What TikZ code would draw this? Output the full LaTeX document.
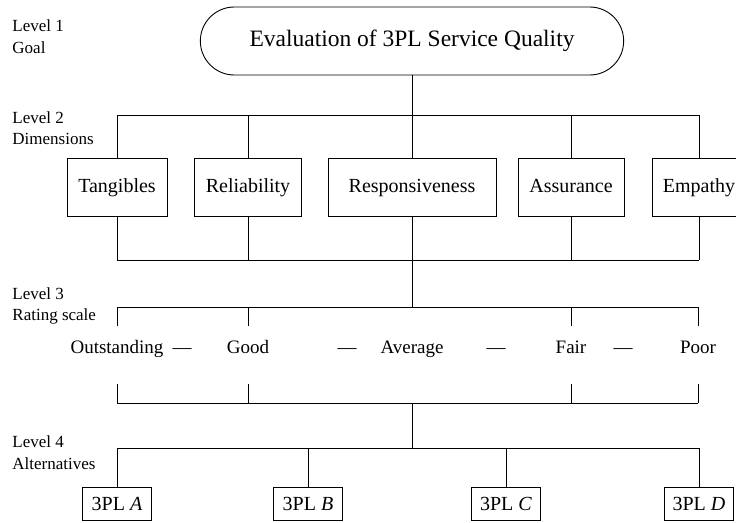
\documentclass[tikz,border=0pt]{standalone}
\usepackage{fontspec}
\setmainfont{Liberation Serif}
\usetikzlibrary{shapes,positioning,calc}

\begin{document}
\begin{tikzpicture}[x=1pt, y=-1pt, line width=0.9pt,
    dimbox/.style={draw, minimum height=58pt, text height=14pt, text depth=4pt, font=\fontsize{20}{24}\selectfont},
    altbox/.style={draw, minimum width=69pt, minimum height=33pt, inner sep=0pt, text height=14pt, text depth=2pt, font=\fontsize{20}{24}\selectfont},
    rate/.style={inner sep=0pt, anchor=base, text height=27pt, text depth=31pt, font=\fontsize{19}{23}\selectfont},
    dashtext/.style={anchor=base, inner sep=0pt, font=\fontsize{19}{23}\selectfont},
    lvl/.style={anchor=base west, inner sep=0pt, font=\fontsize{17}{21}\selectfont}]
    \useasboundingbox (0,0) rectangle (736,522);
    \clip (0,0) rectangle (736,522);

    % Level labels
    \node[lvl] (lev1) at (12,31) {Level 1};
    \node[lvl] (lev1name) at (12,53) {Goal};
    \node[lvl] (lev2) at (12,123) {Level 2};
    \node[lvl] (lev2name) at (12,144) {Dimensions};
    \node[lvl] (lev3) at (12,299) {Level 3};
    \node[lvl] (lev3name) at (12,320) {Rating scale};
    \node[lvl] (lev4) at (12,447) {Level 4};
    \node[lvl] (lev4name) at (12,469) {Alternatives};

    % Bar heights
    \coordinate (b2t) at (0,115);
    \coordinate (b2b) at (0,260);
    \coordinate (b3t) at (0,307);
    \coordinate (b3b) at (0,403);
    \coordinate (b4) at (0,448);

    % Goal
    \node[draw, rounded rectangle, minimum width=430pt, minimum height=68pt,
        font=\fontsize{23.5}{28}\selectfont] (goal) at (412,41) {Evaluation of 3PL Service Quality};

    % Dimensions
    \node[dimbox, minimum width=100pt] (tang) at (117,187) {Tangibles};
    \node[dimbox, minimum width=107pt] (reli) at (248,187) {Reliability};
    \node[dimbox, minimum width=168pt] (resp) at (412,187) {Responsiveness};
    \node[dimbox, minimum width=106pt] (assu) at (571,187) {Assurance};
    \node[dimbox, minimum width=94pt] (empa) at (699,187) {Empathy};

    \draw (goal.south) -- (goal.south |- b2t);
    \draw (tang.north |- b2t) -- (empa.north |- b2t);
    \foreach \nd in {tang,reli,resp,assu,empa}
        \draw (\nd.north) -- (\nd.north |- b2t);
    \draw (tang.south |- b2b) -- (empa.south |- b2b);
    \foreach \nd in {tang,reli,assu,empa}
        \draw (\nd.south) -- (\nd.south |- b2b);
    \draw (resp.south) -- (resp.south |- b3t);

    % Rating scale
    \node[rate] (outs) at (117,353) {Outstanding};
    \node[rate] (good) at (248,353) {Good};
    \node[rate] (aver) at (412,353) {Average};
    \node[rate] (fair) at (571,353) {Fair};
    \node[rate] (poor) at (698,353) {Poor};
    \node[dashtext] (dash1) at (182,353) {\textemdash};
    \node[dashtext] (dash2) at (347,353) {\textemdash};
    \node[dashtext] (dash3) at (496,353) {\textemdash};
    \node[dashtext] (dash4) at (623,353) {\textemdash};

    \draw (outs.north |- b3t) -- (poor.north |- b3t);
    \draw (outs.south |- b3b) -- (poor.south |- b3b);
    \foreach \nd in {outs,good,fair,poor} {
        \draw (\nd.north) -- (\nd.north |- b3t);
        \draw (\nd.south) -- (\nd.south |- b3b);
    }
    \draw (aver.south |- b3b) -- (aver.south |- b4);

    % Alternatives
    \node[altbox] (altA) at (117,504) {3PL \textit{A}};
    \node[altbox] (altB) at (308,504) {3PL \textit{B}};
    \node[altbox] (altC) at (506,504) {3PL \textit{C}};
    \node[altbox] (altD) at (699,504) {3PL \textit{D}};

    \draw (altA.north |- b4) -- (altD.north |- b4);
    \foreach \nd in {altA,altB,altC,altD}
        \draw (\nd.north) -- (\nd.north |- b4);
\end{tikzpicture}
\end{document}
